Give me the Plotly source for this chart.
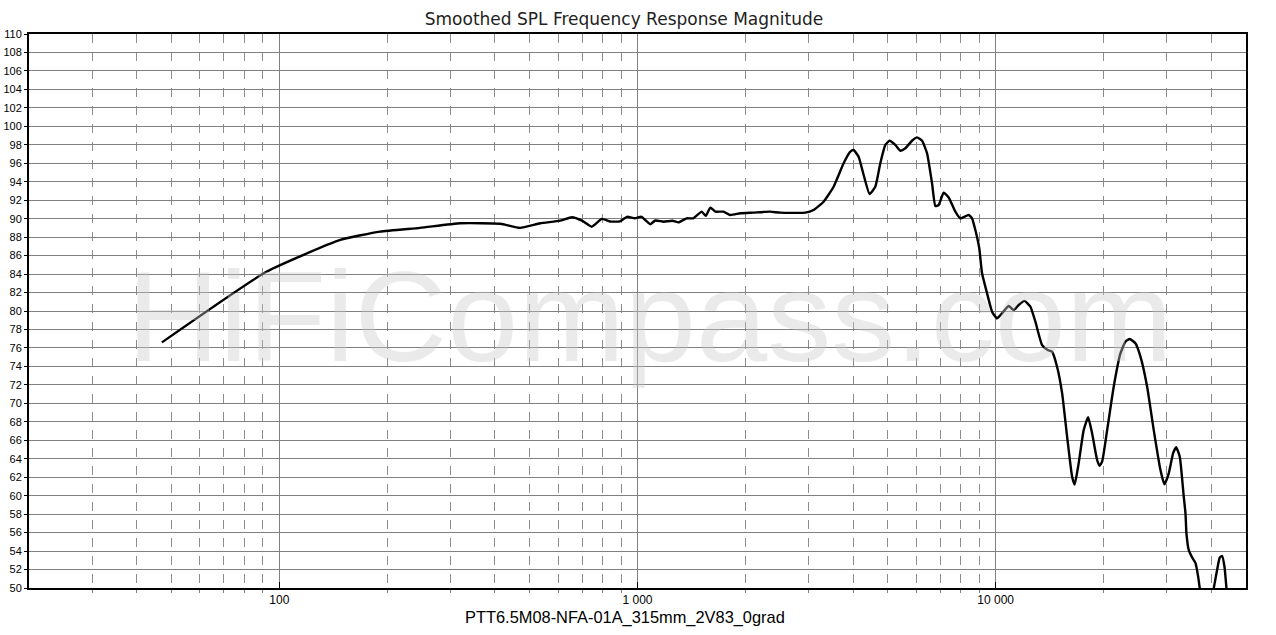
import numpy as np
import plotly.graph_objects as go

freq_hz = [47, 92, 148, 191, 247, 320, 414, 470, 535, 608, 656, 700, 745, 795, 837, 892, 935, 983,
           1026, 1085, 1121, 1183, 1251, 1302, 1372, 1432, 1511, 1552, 1597, 1650, 1738, 1816, 1937,
           2103, 2346, 2503, 2941, 3101, 3308, 3528, 3763, 3928, 4013, 4144, 4280, 4446, 4613, 4764,
           4920, 5058, 5246, 5418, 5595, 5841, 6032, 6230, 6433, 6643, 6787, 6932, 7158, 7392, 7717,
           7967, 8405, 8591, 8776, 9000, 9163, 9462, 9770, 10090, 10420, 10870, 11230, 11590, 12030,
           12500, 12910, 13480, 13970, 14370, 14840, 15330, 15830, 16350, 16620, 17050, 17610, 18120,
           18590, 19200, 19490, 19830, 20480, 21360, 22300, 23030, 23670, 24560, 25370, 26480, 27630,
           28850, 29600, 30430, 31300, 31910, 32660, 33510, 33880, 34100, 34610, 35380, 36140, 36770,
           37150, 38780, 40630, 41530, 42240, 42900, 43540, 44100]
spl_db = [76.6, 84.25, 87.7, 88.6, 89.0, 89.5, 89.45, 89.0, 89.5, 89.78, 90.15, 89.78, 89.13, 89.97,
          89.7, 89.7, 90.2, 90.04, 90.2, 89.4, 89.8, 89.67, 89.78, 89.6, 90.04, 90.04, 90.76, 90.3,
          91.2, 90.76, 90.76, 90.4, 90.58, 90.65, 90.76, 90.65, 90.65, 90.94, 91.84, 93.46, 96.0,
          97.25, 97.44, 96.7, 94.73, 92.67, 93.46, 96.0, 97.98, 98.44, 97.98, 97.36, 97.62, 98.44,
          98.8, 98.44, 97.08, 93.83, 91.37, 91.48, 92.81, 92.3, 90.76, 90.04, 90.4, 90.04, 88.77,
          86.8, 84.08, 81.92, 79.93, 79.2, 79.75, 80.54, 80.1, 80.65, 81.1, 80.47, 78.84, 76.3,
          75.78, 75.6, 73.97, 71.1, 66.4, 62.05, 61.2, 63.5, 67.1, 68.49, 66.75, 63.86, 63.24, 63.7,
          67.1, 71.8, 75.4, 76.67, 76.97, 76.5, 75.05, 71.8, 67.1, 62.78, 61.22, 62.42, 64.6, 65.24,
          64.22, 59.89, 58.1, 55.9, 54.1, 53.3, 52.7, 51.22, 49.96, 46.5, 49.96, 51.98, 53.3, 53.46,
          52.3, 49.96]

x_tick_vals = [100, 1000, 10000]
x_tick_text = ["100", "1 000", "10 000"]
y_tick_vals = list(range(50, 111, 2))
minor_vals = [m * d for d in (10, 100, 1000, 10000) for m in range(2, 10) if 20 <= m * d <= 50000]

title_text = "Smoothed SPL Frequency Response Magnitude"
x_title = "PTT6.5M08-NFA-01A_315mm_2V83_0grad"
watermark = "HiFiCompass.com"

FONT = "DejaVu Sans, Verdana, sans-serif"
FONT2 = "Liberation Sans, Arial, sans-serif"

fig = go.Figure()
fig.add_trace(go.Scatter(
    x=freq_hz, y=spl_db, mode="lines",
    line=dict(color="black", width=2.4, shape="spline", smoothing=0.45),
    showlegend=False, hoverinfo="x+y",
))

fig.add_annotation(
    text=watermark, xref="paper", yref="paper", x=0.510, y=0.49,
    showarrow=False, font=dict(family=FONT2, size=128, color="rgba(200,200,200,0.38)"),
    xanchor="center", yanchor="middle",
)
fig.add_annotation(
    text=x_title, xref="paper", yref="paper", x=(625 - 29) / 1216.7, y=0, yshift=-29,
    showarrow=False, font=dict(family=FONT2, size=16.4, color="black"),
    xanchor="center", yanchor="middle",
)

fig.update_layout(
    width=1276, height=635,
    margin=dict(l=29, r=30, t=34, b=47, autoexpand=False),
    paper_bgcolor="white", plot_bgcolor="white",
    title=dict(text=title_text, x=624 / 1276, xanchor="center", xref="container",
               y=1 - 19 / 635, yref="container", yanchor="middle",
               font=dict(family=FONT, size=17, color="#222")),
    font=dict(family=FONT2, color="black"),
)

fig.update_xaxes(
    type="log", range=[np.log10(20), np.log10(50000)], automargin=False,
    tickmode="array", tickvals=x_tick_vals, ticktext=x_tick_text,
    tickfont=dict(size=12, color="black"),
    ticks="inside", ticklen=6, tickcolor="black",
    showgrid=True, gridcolor="#808080", gridwidth=1,
    showline=True, linecolor="black", linewidth=2, mirror=True,
    zeroline=False,
    minor=dict(tickmode="array", tickvals=minor_vals, showgrid=True, gridcolor="#8c8c8c",
               griddash="dash", gridwidth=1, ticks="outside", ticklen=3, tickcolor="#808080"),
)
fig.update_yaxes(
    range=[50, 110], tickmode="array", tickvals=y_tick_vals, automargin=False,
    tickfont=dict(size=11, color="black"),
    ticks="outside", ticklen=3, tickcolor="black",
    showgrid=True, gridcolor="#808080", gridwidth=1,
    showline=True, linecolor="black", linewidth=2, mirror=True,
    zeroline=False,
)

fig.write_html("out.html", config={"displayModeBar": False},
               post_script="document.body.style.margin='0';document.body.style.overflow='hidden';")
